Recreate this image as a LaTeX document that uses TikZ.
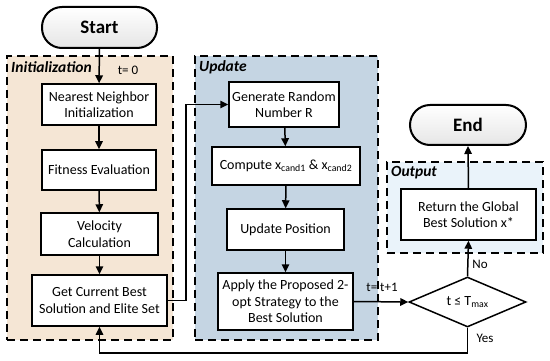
\documentclass[tikz,border=0pt]{standalone}
\usepackage{fontspec}
\setmainfont{Carlito}
\usetikzlibrary{arrows.meta,shapes.geometric}
\definecolor{initfill}{RGB}{245,230,213}
\definecolor{updfill}{RGB}{197,213,227}
\definecolor{outfill}{RGB}{234,243,250}
\begin{document}
\begin{tikzpicture}[x=1pt,y=-1pt,
  region/.style={draw, line width=1.1pt, dash pattern=on 8pt off 5pt, inner sep=0pt},
  procbox/.style={draw, line width=1.5pt, fill=white, align=center, inner sep=1pt, font=\fontsize{14}{16.5}\selectfont},
  terminal/.style={draw, line width=2pt, rounded corners=20pt, top color=white, bottom color=black!10, font=\fontsize{19}{21}\selectfont\bfseries, inner sep=0pt},
  decision/.style={draw, diamond, aspect=2.3, line width=1.5pt, fill=white, inner sep=0pt, font=\fontsize{14}{16}\selectfont},
  regionlabel/.style={anchor=west, font=\fontsize{15.5}{17}\selectfont\bfseries\itshape, inner sep=0pt},
  smalllabel/.style={font=\fontsize{13}{15}\selectfont, inner sep=0pt},
  flow/.style={line width=1.5pt, -{Triangle[length=8pt,width=7.5pt]}}
]
\useasboundingbox (0,0) rectangle (550,361);
% regions
\node[region, fill=initfill, minimum width=166pt, minimum height=284pt] (initreg) at (90,198) {};
\node[region, fill=updfill, minimum width=183pt, minimum height=284pt] (updreg) at (286.5,198) {};
\node[region, fill=outfill, minimum width=156pt, minimum height=91pt] (outreg) at (465,207.5) {};
\node[regionlabel] (initlab) at (11,67) {Initialization};
\node[regionlabel] (updlab) at (199,67) {Update};
\node[regionlabel] (outlab) at (391,173) {Output};
% terminals
\node[terminal, minimum width=115pt, minimum height=41pt] (start) at (99.5,27.5) {Start};
\node[terminal, minimum width=116pt, minimum height=40pt] (endn) at (468,125) {End};
% init boxes
\node[procbox, minimum width=114pt, minimum height=41pt] (nn) at (99,104.5) {Nearest Neighbor\\Initialization};
\node[procbox, minimum width=114pt, minimum height=40pt] (fit) at (99,170) {Fitness Evaluation};
\node[procbox, minimum width=117pt, minimum height=42pt] (vel) at (99.5,234) {Velocity\\Calculation};
\node[procbox, minimum width=135pt, minimum height=51pt] (best) at (99.5,300.5) {Get Current Best\\Solution and Elite Set};
% update boxes
\node[procbox, minimum width=110pt, minimum height=45pt] (gen) at (284,104.5) {Generate Random\\Number R};
\node[procbox, minimum width=148pt, minimum height=38pt] (comp) at (286,166) {Compute x\textsubscript{cand1} \& x\textsubscript{cand2}};
\node[procbox, minimum width=117pt, minimum height=41pt] (upd) at (285.5,229.5) {Update Position};
\node[procbox, minimum width=135pt, minimum height=57pt] (apply) at (285.5,301.5) {Apply the Proposed 2-\\opt Strategy to the\\Best Solution};
% output
\node[procbox, minimum width=135pt, minimum height=51pt] (ret) at (468.5,214.5) {Return the Global\\Best Solution x*};
\node[decision, minimum width=117pt, minimum height=50pt] (dia) at (467.5,302) {t ≤ T\textsubscript{max}};
% small labels
\node[smalllabel] (t0) at (128,70) {t= 0};
\node[smalllabel] (tinc) at (382,287) {t= t+1};
\node[smalllabel] (nolab) at (480,264) {No};
\node[smalllabel] (yeslab) at (485,338) {Yes};
% connectors
\draw[flow] (start) -- (nn);
\draw[flow] (nn) -- (fit);
\draw[flow] (fit) -- (vel);
\draw[flow] (vel) -- (best);
\draw[flow] (best.east) -- ++(18,0) |- (gen.west);
\draw[flow] (gen) -- (comp);
\draw[flow] (comp) -- (upd);
\draw[flow] (upd) -- (apply);
\draw[flow] (apply.east) -- (dia.west);
\draw[flow] (dia.north) -- (ret.south);
\draw[flow] (ret.north) -- (endn.south);
\draw[flow] (dia.south) -- ++(0,25) -| (best.south);
\end{tikzpicture}
\end{document}
